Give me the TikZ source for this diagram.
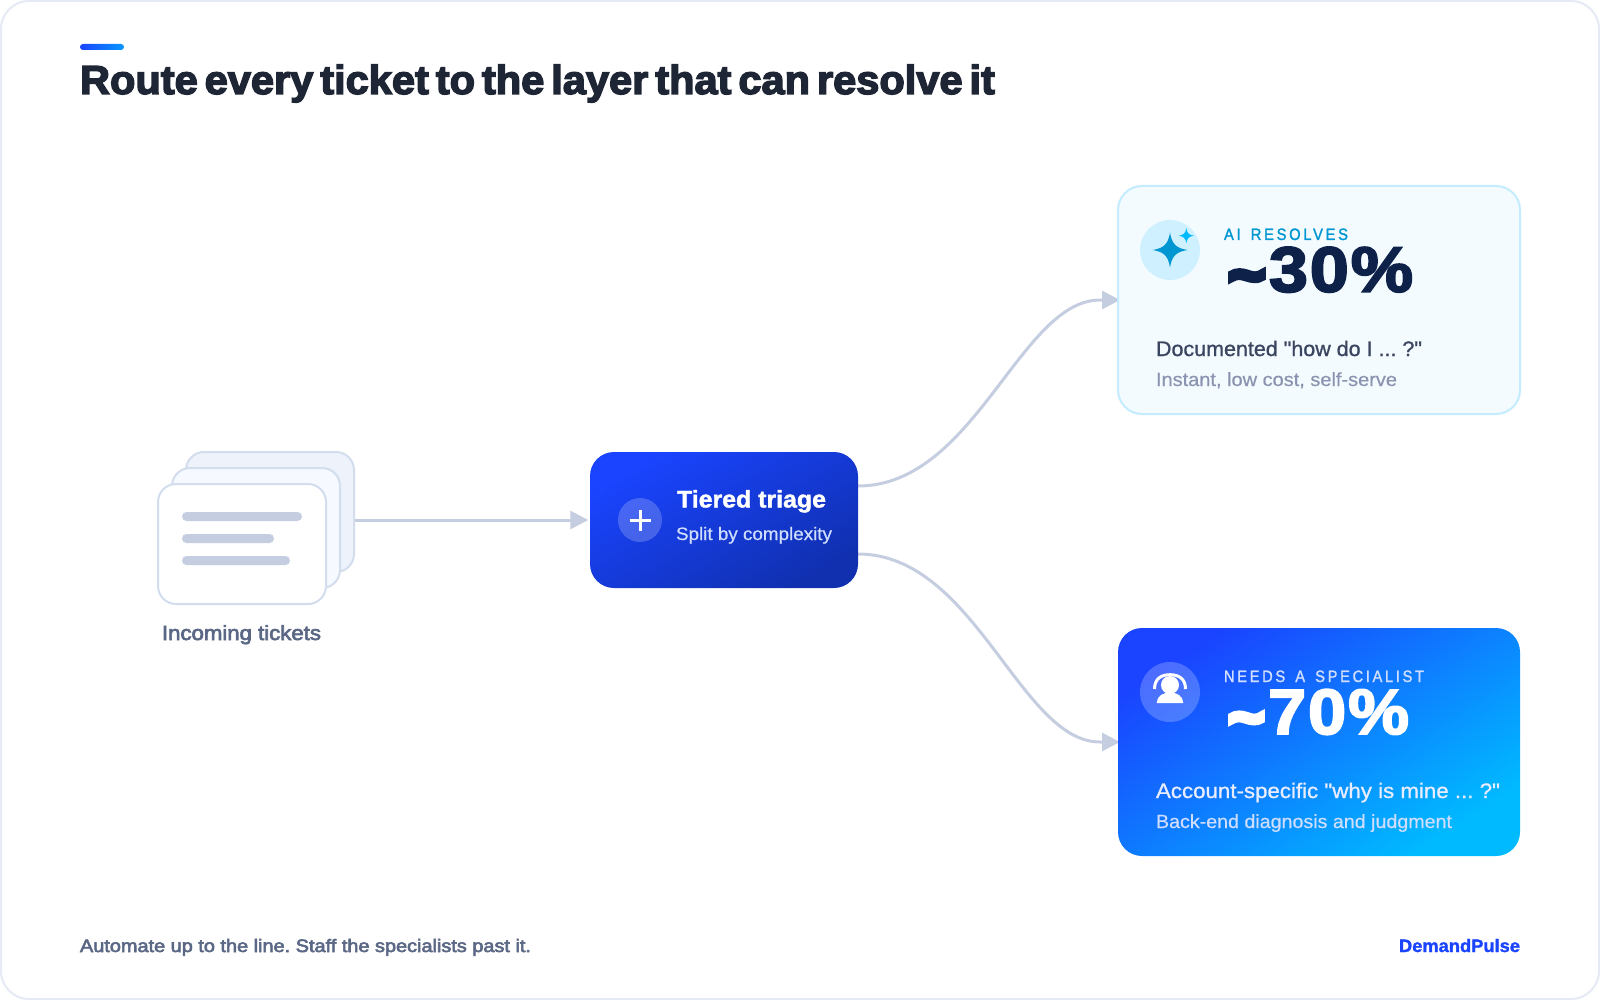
\documentclass[tikz,border=0pt]{standalone}
\usepackage{fontspec}
\usepackage{graphicx}
\usetikzlibrary{arrows.meta}
\setmainfont{Liberation Sans}
\frenchspacing
\newfontfamily\fReg[FakeBold=0.5]{Liberation Sans}
\newfontfamily\fMed[FakeBold=1]{Liberation Sans}
\newfontfamily\fSemi[FakeBold=3]{Liberation Sans}
\newfontfamily\fLab[FakeBold=1.5,LetterSpace=18,WordSpace=1.5]{Liberation Sans}
\newfontfamily\fBold[FakeBold=1.5]{Liberation Sans Bold}
\newfontfamily\fHeavy[FakeBold=3.5,WordSpace=0.6]{Liberation Sans Bold}
\newfontfamily\fBlack[FakeBold=3,LetterSpace=3]{Liberation Sans Bold}
\newfontfamily\fTilde[FakeBold=11]{Liberation Sans Bold}
\definecolor{cborder}{HTML}{E6EAF4}
\definecolor{cink}{HTML}{1E2636}
\definecolor{cblue}{HTML}{1A44FF}
\definecolor{cbluedeep}{HTML}{1030B0}
\definecolor{ccyan}{HTML}{00BAFF}
\definecolor{cline}{HTML}{C5CDE0}
\definecolor{cslate}{HTML}{5A6785}
\definecolor{cstackedge}{HTML}{D3DDEE}
\definecolor{cstackA}{HTML}{EDF2FB}
\definecolor{cstackB}{HTML}{F6F9FF}
\definecolor{cpale}{HTML}{F4FBFF}
\definecolor{cpaleedge}{HTML}{C4ECFF}
\definecolor{cnavy}{HTML}{0D2149}
\definecolor{cteal}{HTML}{0096D2}
\definecolor{ciconbg}{HTML}{CFF1FF}
\definecolor{cbody}{HTML}{3A4560}
\definecolor{cmuted}{HTML}{8A94B0}
\definecolor{csoft}{HTML}{CFDDFF}
\newcommand{\fitw}[2]{\resizebox{#1pt}{\height}{#2}}
\newcommand{\bigtilde}{\raisebox{-2.5pt}{\fontsize{56}{60}\fTilde\textasciitilde}\kern4pt\fontsize{64}{70}}
\newcommand{\sparkle}[4]{\fill[#4] (#1,#2-#3) .. controls (#1+0.1*#3,#2-0.35*#3) and (#1+0.35*#3,#2-0.1*#3) .. (#1+#3,#2) .. controls (#1+0.35*#3,#2+0.1*#3) and (#1+0.1*#3,#2+0.35*#3) .. (#1,#2+#3) .. controls (#1-0.1*#3,#2+0.35*#3) and (#1-0.35*#3,#2+0.1*#3) .. (#1-#3,#2) .. controls (#1-0.35*#3,#2-0.1*#3) and (#1-0.1*#3,#2-0.35*#3) .. cycle;}
\pgfdeclarelayer{under}
\pgfsetlayers{under,main}
\tikzset{
  txt/.style={anchor=base west,inner sep=0pt,outer sep=0pt},
  txtr/.style={anchor=base east,inner sep=0pt,outer sep=0pt},
  ticket/.style={draw=cstackedge,line width=2pt,rounded corners=18pt,minimum width=168pt,minimum height=120pt,inner sep=0pt,outer sep=0pt},
  bigcard/.style={rounded corners=24pt,minimum width=402pt,minimum height=228pt,inner sep=0pt,outer sep=0pt},
  barline/.style={fill=cline,rounded corners=4.5pt},
  link/.style={draw=cline,line width=3pt,-{Triangle[length=18pt,width=18pt,fill=cline]}},
  iconbg/.style={circle,minimum size=60pt,inner sep=0pt,outer sep=0pt},
}
\begin{document}
\begin{tikzpicture}[x=1pt,y=-1pt]
\useasboundingbox (0,0) rectangle (1600,1000);
\begin{pgfonlayer}{under}
\fill[white] (0,0) rectangle (1600,1000);
\draw[cborder,line width=2pt,rounded corners=28pt] (1,1) rectangle (1599,999);
\end{pgfonlayer}
% heading
\shade[left color=cblue,right color=ccyan!70!cblue,rounded corners=3pt] (80,44) rectangle (124,50);
\node[txt,text=cink] (title) at (80,94) {\fitw{915}{\fontsize{40.5}{48}\fHeavy Route every ticket to the layer that can resolve it}};
% tickets
\node[ticket,fill=cstackA] (backsheet) at (270,512) {};
\node[ticket,fill=cstackB] (midsheet) at (256,528) {};
\node[ticket,fill=white] (frontsheet) at (242,544) {};
\fill[barline] (182,512) rectangle (302,521);
\fill[barline] (182,534) rectangle (274,543);
\fill[barline] (182,556) rectangle (290,565);
\node[txt,text=cslate] (inlabel) at (162,640) {\fitw{159}{\fontsize{20.5}{24}\fSemi Incoming tickets}};
% triage
\node[rounded corners=24pt,minimum width=268pt,minimum height=136pt,inner sep=0pt,outer sep=0pt,top color=cblue,bottom color=cbluedeep,shading angle=30] (triage) at (724,520) {};
\node[circle,fill=white,fill opacity=.2,minimum size=44pt,inner sep=0pt] (plusbg) at (640,520) {};
\draw[white,line width=3pt] (629.5,520) -- (650.5,520);
\draw[white,line width=3pt] (640,509.5) -- (640,530.5);
\node[txt,text=white] (triagehead) at (677,507.5) {\fitw{149}{\fontsize{24}{28}\fBold Tiered triage}};
\node[txt,text=csoft] (triagesub) at (676,540) {\fitw{156}{\fontsize{18}{22}\fReg Split by complexity}};
% AI card
\node[bigcard,draw=cpaleedge,fill=cpale,line width=2pt,minimum width=402pt,minimum height=228pt] (aicard) at (1319,300) {};
\node[iconbg,fill=ciconbg] (aiicon) at (1170,250) {};
\sparkle{1170}{250}{17.5}{cteal}
\sparkle{1186.3}{235.7}{7.5}{ccyan}
\node[txt,text=cteal] (ailabel) at (1224,240) {\fitw{124}{\fontsize{16.5}{20}\fLab AI RESOLVES}};
\node[txt,text=cnavy] (aipct) at (1229,291.7) {\fitw{184}{\bigtilde\fBlack 30\%}};
\node[txt,text=cbody] (aibody) at (1156,356) {\fitw{266}{\fontsize{21}{25}\fMed Documented "how do I ... ?"}};
\node[txt,text=cmuted] (aisub) at (1156,386) {\fitw{241}{\fontsize{19}{23}\fReg Instant, low cost, self-serve}};
% specialist card
\node[bigcard,top color=cblue,bottom color=ccyan,shading angle=33] (spcard) at (1319,742) {};
\node[iconbg,fill=white,fill opacity=.22] (spicon) at (1170,692) {};
\fill[white] (1170,685) circle[radius=9pt];
\fill[white] (1156.7,703) .. controls (1157,696) and (1163,692.5) .. (1170,692.5) .. controls (1177,692.5) and (1183,696) .. (1183.3,703) -- cycle;
\draw[white,line width=3pt] (1154.5,689) .. controls (1154.5,679) and (1161,674.7) .. (1170,674.7) .. controls (1179,674.7) and (1185.5,679) .. (1185.5,689);
\node[txt,text=csoft] (splabel) at (1224,682) {\fitw{200}{\fontsize{16.5}{20}\fLab NEEDS A SPECIALIST}};
\node[txt,text=white] (sppct) at (1229,734) {\fitw{180}{\bigtilde\fBlack 70\%}};
\node[txt,text=white!90!cblue] (spbody) at (1156,798) {\fitw{344}{\fontsize{21}{25}\fMed Account-specific "why is mine ... ?"}};
\node[txt,text=csoft] (spsub) at (1156,828) {\fitw{296}{\fontsize{19}{23}\fReg Back-end diagnosis and judgment}};
% connectors
\coordinate (inout) at (354,520);
\coordinate (outA) at ([yshift=34pt]triage.east);
\coordinate (outB) at ([yshift=-34pt]triage.east);
\coordinate (baseA) at ([xshift=-18pt]aicard.west);
\coordinate (baseB) at ([xshift=-18pt]spcard.west);
\coordinate (inA) at ([xshift=2pt]aicard.west);
\coordinate (inB) at ([xshift=2pt]spcard.west);
\begin{pgfonlayer}{under}
\draw[link,shorten >=1.7pt] (inout) -- (triage.west);
\draw[link] (outA) .. controls (975,486) and (1020,300) .. (baseA) -- (inA);
\draw[link] (outB) .. controls (975,554) and (1020,742) .. (baseB) -- (inB);
\end{pgfonlayer}
% footer
\node[txt,text=cslate] (footnote) at (80,952) {\fitw{451}{\fontsize{18}{22}\fSemi Automate up to the line. Staff the specialists past it.}};
\node[txtr,text=cblue] (brand) at (1520,952) {\fitw{121}{\fontsize{18}{22}\fBold DemandPulse}};
\end{tikzpicture}
\end{document}
